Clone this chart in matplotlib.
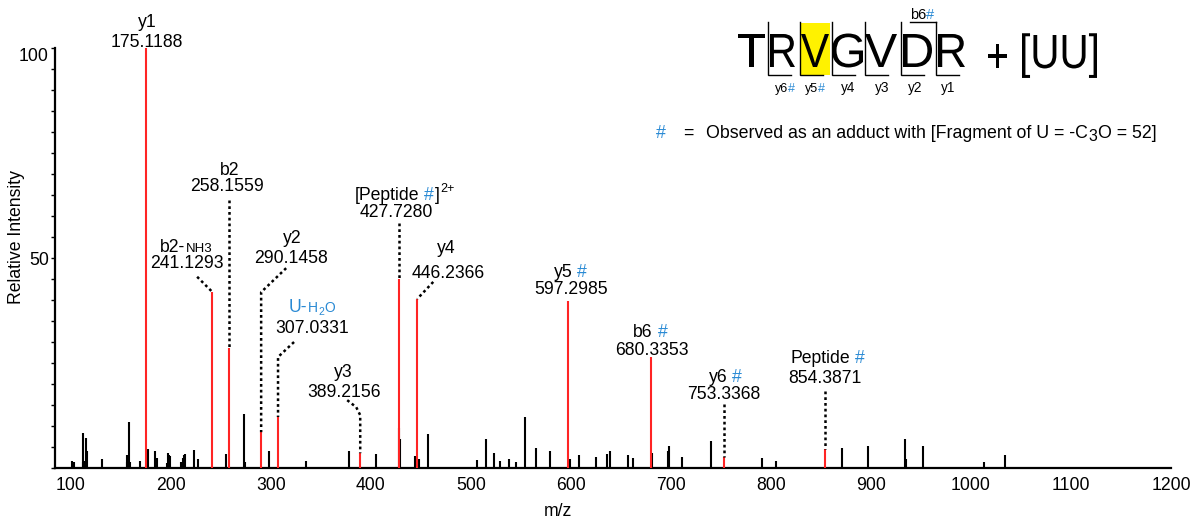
import matplotlib
matplotlib.use("Agg")
import matplotlib.pyplot as plt
import numpy as np
from matplotlib.textpath import TextPath
from matplotlib.font_manager import FontProperties
from matplotlib.patches import PathPatch, Rectangle
from matplotlib.transforms import Affine2D, IdentityTransform
from matplotlib.lines import Line2D
from matplotlib.ticker import FixedLocator, MultipleLocator

plt.rcParams['font.family'] = ['Liberation Sans', 'DejaVu Sans']

W, H, DPI = 1203, 524, 100
RED = '#ff2424'
BLUE = '#2a8ad4'
FS = 12.7

# ---------------- data ----------------
# unassigned peaks: m/z and relative intensity
other_mz = [100.7, 103.3, 111.5, 112.3, 113.5, 114.7, 116.0, 130.5, 155.5, 156.3,
            157.5, 159.0, 168.5, 176.7, 184.3, 185.7, 195.7, 196.7, 198.0, 199.0,
            210.0, 211.5, 213.0, 214.0, 223.3, 227.3, 254.5, 273.0, 274.0, 298.3,
            335.3, 378.0, 405.3, 428.3, 429.3, 444.3, 448.3, 457.3, 506.3, 515.0,
            523.3, 529.0, 537.7, 545.0, 554.3, 565.0, 579.3, 599.0, 608.0, 624.7,
            636.3, 639.0, 657.3, 661.7, 681.0, 697.0, 698.3, 711.0, 739.7, 791.0,
            805.0, 871.3, 897.0, 934.0, 935.0, 952.0, 1012.7, 1033.7]
other_int = [1.75, 1.4, 1.5, 8.5, 1.8, 7.3, 4.1, 2.1, 1.5, 3.2,
             11.1, 1.4, 1.7, 4.6, 4.2, 2.5, 1.3, 3.7, 3.2, 2.9,
             1.4, 2.5, 3.2, 3.4, 4.4, 2.3, 3.4, 13.0, 1.6, 4.0,
             1.7, 4.1, 3.3, 9.5, 7.0, 2.9, 2.3, 8.2, 1.9, 6.9,
             3.7, 1.75, 2.1, 1.4, 12.1, 4.8, 4.1, 2.1, 3.2, 2.7,
             3.4, 4.0, 3.2, 2.5, 3.6, 4.2, 5.2, 2.7, 6.6, 2.4,
             1.7, 4.9, 5.2, 7.0, 2.2, 5.2, 1.6, 3.2]

# assigned fragment ions
ion_labels = ['y1', 'b2-NH3', 'b2', 'y2', 'U-H2O', 'y3', '[Peptide #]2+',
              'y4', 'y5 #', 'b6 #', 'y6 #', 'Peptide #']
ion_mz = [175.1188, 241.1293, 258.1559, 290.1458, 307.0331, 389.2156, 427.7280,
          446.2366, 597.2985, 680.3353, 753.3368, 854.3871]
ion_int = [100.0, 42.0, 28.6, 8.6, 12.2, 3.6, 45.1, 40.3, 39.9, 26.4, 2.7, 4.6]

sequence = ['T', 'R', 'V', 'G', 'V', 'D', 'R']
y_ion_tags = ['y6', 'y5', 'y4', 'y3', 'y2', 'y1']
y_ion_adduct = [True, True, False, False, False, False]
b_ion_tag = 'b6'
x_ticks = [100, 200, 300, 400, 500, 600, 700, 800, 900, 1000, 1100, 1200]
y_ticks = [50, 100]

# ---------------- label styling (pieces: text, colour, size, rise px, gap px) ----------------
def plain(s):
    return [(s, 'black', FS, 0, 0)]

def tagged(s):
    return [(s, 'black', FS, 0, 0), ('#', BLUE, FS, 0, 5)]

name_pieces = {
    'y1': plain('y1'),
    'b2-NH3': [('b2-', 'black', FS, 0, 0), ('NH3', 'black', 9.5, 0, 0.5)],
    'b2': plain('b2'),
    'y2': plain('y2'),
    'U-H2O': [('U-', BLUE, FS, 0, 0), ('H', BLUE, 10, 0, 0.5), ('2', BLUE, 7.5, -3, 0.3),
              ('O', BLUE, 10, 0, 0.3)],
    'y3': plain('y3'),
    '[Peptide #]2+': [('[Peptide', 'black', FS, 0, 0), ('#', BLUE, FS, 0, 5),
                      (']', 'black', FS, 0, 0.5), ('2+', 'black', 9, 8, 1)],
    'y4': plain('y4'),
    'y5 #': tagged('y5'),
    'b6 #': tagged('b6'),
    'y6 #': tagged('y6'),
    'Peptide #': tagged('Peptide'),
}

# offsets in pixels from the peak top (x right, y down): name baseline, value baseline, leader bends
label_layout = {
    'y1':            ((1, -21), (1, -1), None),
    'b2-NH3':        ((-26, -40), (-25, -24), [(-15, -15)]),
    'b2':            ((1, -173), (-2, -157), [(0, -148)]),
    'y2':            ((31, -189), (30, -169), [(25, -164), (0, -140)]),
    'U-H2O':         ((34, -105), (34, -84), [(16, -75), (0, -60)]),
    'y3':            ((-17, -76), (-16, -56), [(-13, -53), (-4, -46), (0, -38)]),
    '[Peptide #]2+': ((6, -79), (-2, -62), [(0, -56)]),
    'y4':            ((29, -46), (31, -21), [(16, -17)]),
    'y5 #':          ((2, -24), (3, -7), None),
    'b6 #':          ((-1, -20), (1, -2), None),
    'y6 #':          ((1, -75), (-1, -58), [(0, -53)]),
    'Peptide #':     ((2, -86), (0, -66), [(0, -58)]),
}

# ---------------- figure ----------------
fig = plt.figure(figsize=(W / DPI, H / DPI), dpi=DPI)
ax = fig.add_axes([55 / W, (H - 468.3) / H, (1171 - 55) / W, (468.3 - 48) / H])
ax.set_xlim(84, 1200)
ax.set_ylim(0, 100)
for s in ('top', 'right'):
    ax.spines[s].set_visible(False)
for s in ('left', 'bottom'):
    ax.spines[s].set_linewidth(1.6)
ax.set_xticks(x_ticks)
ax.tick_params(axis='x', length=0, pad=6.5, labelsize=FS)
ax.yaxis.set_major_locator(FixedLocator(y_ticks))
ax.yaxis.set_minor_locator(MultipleLocator(5))
ax.tick_params(axis='y', which='both', length=3, width=1, direction='out', pad=1.5, labelsize=FS)
ax.get_yticklabels()[-1].set_verticalalignment('top')

ax.vlines(other_mz, 0, other_int, colors='black', linewidth=1.5, zorder=2)
ax.vlines(ion_mz, 0, ion_int, colors=RED, linewidth=1.5, zorder=3)

fig.text(17 / W, (H - 237) / H, 'Relative Intensity', rotation=90, ha='center', va='center',
         fontsize=FS)
fig.text(558 / W, (H - 512) / H, 'm/z', ha='center', va='center', fontsize=FS)

renderer = fig.canvas.get_renderer()
ident = IdentityTransform()


def rich_text(pieces, x, y, align='center'):
    """Lay out differently styled pieces on one baseline; x, y in display pixels."""
    items = []
    for s, c, fs, rise, gap in pieces:
        t = fig.text(0, 0, s, color=c, fontsize=fs, ha='left', va='baseline', transform=ident)
        items.append((t, rise, gap))
    widths = [t.get_window_extent(renderer).width for t, _, _ in items]
    total = sum(widths) + sum(g for _, _, g in items[1:])
    x0 = x - total / 2 if align == 'center' else x
    for i, ((t, rise, gap), w) in enumerate(zip(items, widths)):
        if i > 0:
            x0 += gap
        t.set_position((x0, y + rise))
        x0 += w


# peak annotations anchored to each peak top
for lab, mz, inten in zip(ion_labels, ion_mz, ion_int):
    X, Y = ax.transData.transform((mz, inten))
    (ndx, ndy), (vdx, vdy), bends = label_layout[lab]
    rich_text(name_pieces[lab], X + ndx, Y - ndy)
    rich_text([(f'{mz:.4f}', 'black', FS, 0, 0)], X + vdx, Y - vdy)
    if bends:
        xs = [X + dx for dx, dy in bends] + [X]
        ys = [Y - dy for dx, dy in bends] + [Y]
        fig.add_artist(Line2D(xs, ys, transform=ident, color='black', lw=1.8,
                              linestyle=(0, (1.1, 1.2))))

# ---------------- sequence header (overlay in pixel coordinates, y down) ----------------
ov = fig.add_axes([0, 0, 1, 1], zorder=5)
ov.set_xlim(0, W)
ov.set_ylim(H, 0)
ov.axis('off')
ov.patch.set_alpha(0)

fp = FontProperties(family='Liberation Sans')
CAP = TextPath((0, 0), 'H', size=1, prop=fp).get_extents().height


def fitted(s, x0, x1, baseline, cap_px):
    tp = TextPath((0, 0), s, size=1, prop=fp)
    ext = tp.get_extents()
    sx = (x1 - x0) / ext.width
    sy = cap_px / CAP
    tr = Affine2D().translate(-ext.x0, 0).scale(sx, -sy).translate(x0, baseline)
    ov.add_patch(PathPatch(tr.transform_path(tp), facecolor='black', edgecolor='none'))


letter_spans = [(738, 765), (770, 795), (801, 829), (832, 863), (865, 897), (903, 932), (938, 965)]
ov.add_patch(Rectangle((800, 23), 30, 52, facecolor='#fff200', edgecolor='none'))
for ch, (a, b) in zip(sequence, letter_spans):
    fitted(ch, a, b, 67, 33)
fitted('+', 988, 1007, 72, 33)
fitted('[UU]', 1022, 1097, 68, 33)

cuts = [768, 800, 832, 865, 901, 936]
for x in cuts:
    ov.plot([x, x, x + 23], [22, 75, 75], color='black', lw=1.0, solid_joinstyle='miter')
ov.plot([910, cuts[-1]], [22, 22], color='black', lw=1.0)

tag_x = [785, 815, 848, 882, 915, 948]
for tag, adduct, x in zip(y_ion_tags, y_ion_adduct, tag_x):
    if adduct:
        pcs = [(tag, 'black', 9, 0, 0), ('#', BLUE, 9, 0, 0.5)]
    else:
        pcs = [(tag, 'black', 9.8, 0, 0)]
    rich_text(pcs, x, H - 92)
rich_text([(b_ion_tag, 'black', 10.5, 0, 0), ('#', BLUE, 10.5, 0, 0.5)], 922, H - 19)

# adduct legend
rich_text([('#', BLUE, 12.8, 0, 0)], 661, H - 137.7)
rich_text([('=', 'black', 12.8, 0, 0)], 683, H - 137.7, align='left')
rich_text([('Observed as an adduct with [Fragment of U = -C', 'black', 12.8, 0, 0),
           ('3', 'black', 11.5, -3.5, 0.5), ('O = 52]', 'black', 12.8, 0, 0.5)],
          706, H - 137.7, align='left')

fig.savefig('out.png', dpi=DPI)
